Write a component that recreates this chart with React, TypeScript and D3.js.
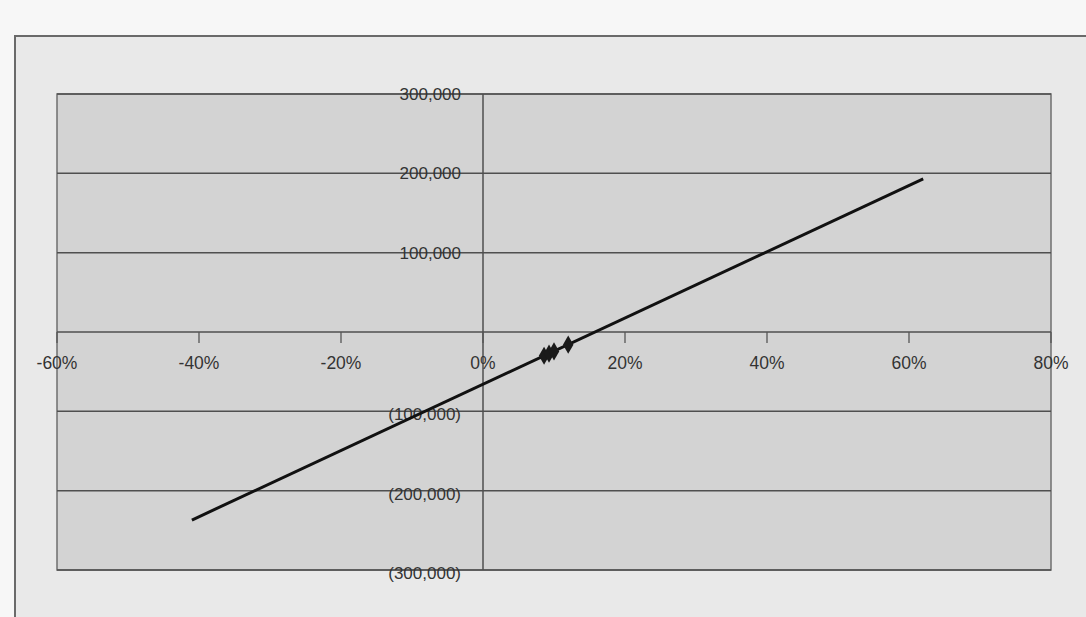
import React from "react";
import * as d3 from "d3";

const xTicks = [-0.6, -0.4, -0.2, 0, 0.2, 0.4, 0.6, 0.8];
const yTicks = [300000, 200000, 100000, 0, -100000, -200000, -300000];
const lineX = [-0.41, 0.62];
const lineY = [-237000, 193000];
const markerX = [0.086, 0.093, 0.1, 0.12];
const markerY = [-30000, -27300, -24500, -16000];

const W = 1086;
const H = 617;

export default function App() {
  const x = d3.scaleLinear().domain([-0.6, 0.8]).range([57, 1051]);
  const y = d3.scaleLinear().domain([-300000, 300000]).range([570, 94]);
  const fmtY = (v: number) => {
    const s = d3.format(",")(Math.abs(v));
    return v < 0 ? `(${s})` : s;
  };
  const fmtX = (v: number) => `${Math.round(v * 100)}%`;
  const linePts = lineX.map((v, i) => [x(v), y(lineY[i])] as [number, number]);
  const path = d3.line()(linePts) || "";
  const diamond = d3.symbol().type(d3.symbolDiamond).size(95)() || "";
  const font = "'Liberation Sans', Arial, sans-serif";
  return (
    <svg
      width={W}
      height={H}
      style={{ position: "absolute", left: 0, top: 0, background: "#f7f7f7" }}
    >
      <rect x={15} y={36} width={1085} height={600} fill="#e9e9e9" stroke="#6a6a6a" strokeWidth={2} />
      <rect x={x(-0.6)} y={y(300000)} width={x(0.8) - x(-0.6)} height={y(-300000) - y(300000)} fill="#d3d3d3" stroke="#6f6f6f" strokeWidth={1.5} />
      {yTicks.map((t) => (
        <line key={"g" + t} x1={x(-0.6)} x2={x(0.8)} y1={y(t)} y2={y(t)} stroke="#4f4f4f" strokeWidth={1.5} />
      ))}
      <line x1={x(0)} x2={x(0)} y1={y(300000)} y2={y(-300000)} stroke="#4f4f4f" strokeWidth={1.5} />
      {xTicks.map((t) => (
        <line key={"t" + t} x1={x(t)} x2={x(t)} y1={y(0)} y2={y(0) + 11} stroke="#555" strokeWidth={1.3} />
      ))}
      {yTicks.filter((t) => t !== 0).map((t) => (
        <text key={"yl" + t} x={x(0) - 22} y={y(t) + (t < 0 ? 9 : 6)} textAnchor="end" fontFamily={font} fontSize={17} fill="#333">
          {fmtY(t)}
        </text>
      ))}
      {xTicks.map((t) => (
        <text key={"xl" + t} x={x(t)} y={y(0) + 37} textAnchor="middle" fontFamily={font} fontSize={17.5} fill="#333">
          {fmtX(t)}
        </text>
      ))}
      <path d={path} fill="none" stroke="#111" strokeWidth={3} />
      {markerX.map((v, i) => (
        <path key={"m" + i} d={diamond} transform={`translate(${x(v)},${y(markerY[i])})`} fill="#1a1a1a" />
      ))}
    </svg>
  );
}
